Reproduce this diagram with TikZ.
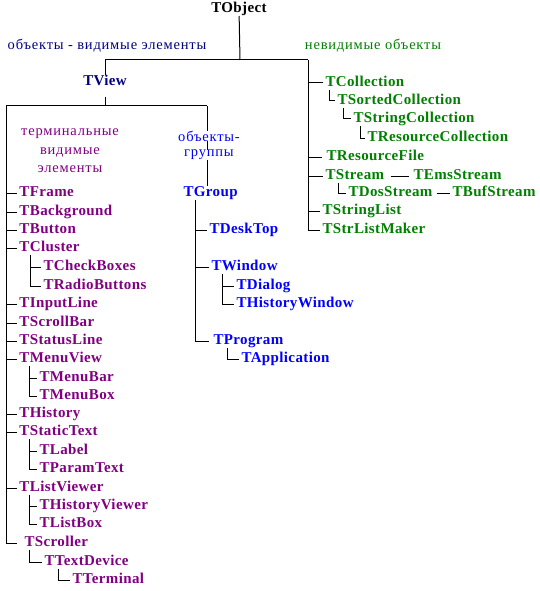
\documentclass[tikz,border=0pt]{standalone}
\usepackage{fontspec}
\setmainfont{Liberation Serif}
\newfontfamily\clsfont[LetterSpace=2.5]{Liberation Serif}
\newfontfamily\notefont[LetterSpace=5.5]{Liberation Serif}
\definecolor{termcol}{HTML}{800080}
\definecolor{grpcol}{HTML}{0000FF}
\definecolor{invcol}{HTML}{008000}
\definecolor{viewcol}{HTML}{000080}
\tikzset{
  cls/.style={anchor=west,inner xsep=2pt,inner ysep=0pt,text height=10pt,text depth=3pt,
    font=\clsfont\fontsize{15}{18}\selectfont\bfseries},
  term/.style={cls,text=termcol},
  grp/.style={cls,text=grpcol},
  inv/.style={cls,text=invcol},
  note/.style={align=center,inner sep=1pt,font=\notefont\fontsize{14.5}{18.5}\selectfont}
}
\begin{document}
\begin{tikzpicture}[x=1pt,y=-1pt,line width=1pt]
        \useasboundingbox (0,0) rectangle (540,591);
        % root and first level
        \node [cls,anchor=center] (tobject) at (239,9) {TObject};
        \node [cls,anchor=center,text=viewcol] (tview) at (105,82) {TView};
        \coordinate (topbus) at (240,60);
        \coordinate (rbus) at (308,60);
        \coordinate (lbus) at (6,106);
        \coordinate (mbus) at (207,106);
        \node [note,text=viewcol] (lvisible) at (107,46) {объекты - видимые элементы};
        \node [note,text=invcol] (linvisible) at (373,46) {невидимые объекты};
        \node [note,text=termcol] (lterminal) at (70,151) {терминальные\\видимые\\элементы};
        \draw (tobject) -- (topbus);
        \draw (tview.north |- topbus) -- (rbus);
        \draw (tview.north |- topbus) -- (tview.north);
        \draw ([yshift=-8pt]tview.south) -- (tview.south |- lbus);
        \draw (lbus) -- (mbus);
        % terminal views
        \node [term] (tframe) at (17,193) {TFrame};
        \node [term] (tbackground) at (17,212) {TBackground};
        \node [term] (tbutton) at (17,230) {TButton};
        \node [term] (tcluster) at (17,248) {TCluster};
        \node [term] (tcheckboxes) at (41,267) {TCheckBoxes};
        \node [term] (tradiobuttons) at (41,286) {TRadioButtons};
        \node [term] (tinputline) at (17,304) {TInputLine};
        \node [term] (tscrollbar) at (17,323) {TScrollBar};
        \node [term] (tstatusline) at (17,341) {TStatusLine};
        \node [term] (tmenuview) at (17,359) {TMenuView};
        \node [term] (tmenubar) at (37,378) {TMenuBar};
        \node [term] (tmenubox) at (37,396) {TMenuBox};
        \node [term] (thistory) at (17,414) {THistory};
        \node [term] (tstatictext) at (17,432) {TStaticText};
        \node [term] (tlabel) at (37,451) {TLabel};
        \node [term] (tparamtext) at (37,469) {TParamText};
        \node [term] (tlistviewer) at (17,488) {TListViewer};
        \node [term] (thistoryviewer) at (37,506) {THistoryViewer};
        \node [term] (tlistbox) at (37,524) {TListBox};
        \node [term] (tscroller) at (22,543) {TScroller};
        \node [term] (ttextdevice) at (42,562) {TTextDevice};
        \node [term] (tterminal) at (70,580) {TTerminal};
        \draw (lbus) |- ([xshift=-5pt]tscroller.west);
        \draw (lbus |- tframe.west) -- (tframe.west);
        \draw (lbus |- tbackground.west) -- (tbackground.west);
        \draw (lbus |- tbutton.west) -- (tbutton.west);
        \draw (lbus |- tcluster.west) -- (tcluster.west);
        \draw (lbus |- tinputline.west) -- (tinputline.west);
        \draw (lbus |- tscrollbar.west) -- (tscrollbar.west);
        \draw (lbus |- tstatusline.west) -- (tstatusline.west);
        \draw (lbus |- tmenuview.west) -- (tmenuview.west);
        \draw (lbus |- thistory.west) -- (thistory.west);
        \draw (lbus |- tstatictext.west) -- (tstatictext.west);
        \draw (lbus |- tlistviewer.west) -- (tlistviewer.west);
        \draw ([xshift=13pt]tcluster.south west) |- (tradiobuttons.west);
        \draw ([xshift=13pt]tcluster.south west |- tcheckboxes.west) -- (tcheckboxes.west);
        \draw ([xshift=12pt]tmenuview.south west) |- (tmenubox.west);
        \draw ([xshift=12pt]tmenuview.south west |- tmenubar.west) -- (tmenubar.west);
        \draw ([xshift=12pt]tstatictext.south west) |- (tparamtext.west);
        \draw ([xshift=12pt]tstatictext.south west |- tlabel.west) -- (tlabel.west);
        \draw ([xshift=12pt]tlistviewer.south west) |- (tlistbox.west);
        \draw ([xshift=12pt]tlistviewer.south west |- thistoryviewer.west) -- (thistoryviewer.west);
        \draw ([xshift=7pt]tscroller.south west) |- (ttextdevice.west);
        \draw ([xshift=16pt]ttextdevice.south west) |- (tterminal.west);
        % groups
        \node [grp] (tgroup) at (181,193) {TGroup};
        \draw (mbus) -- (mbus |- tgroup.north);
        \node [note,text=grpcol,fill=white,inner sep=0pt] (lgroups) at (209,136) {объекты-};
        \node [note,text=grpcol,fill=white,inner sep=0pt] (lgroups2) at (209,155) {группы};
        \node [grp] (tdesktop) at (207,230) {TDeskTop};
        \node [grp] (twindow) at (209,267) {TWindow};
        \node [grp] (tdialog) at (234,286) {TDialog};
        \node [grp] (thistorywindow) at (234,304) {THistoryWindow};
        \node [grp] (tprogram) at (211,341) {TProgram};
        \node [grp] (tapplication) at (239,359) {TApplication};
        \draw ([xshift=14pt]tgroup.south west) |- ([xshift=-2pt]tprogram.west);
        \draw ([xshift=14pt]tgroup.south west |- tdesktop.west) -- (tdesktop.west);
        \draw ([xshift=14pt]tgroup.south west |- twindow.west) -- (twindow.west);
        \draw ([xshift=13pt]twindow.south west) |- (thistorywindow.west);
        \draw ([xshift=13pt]twindow.south west |- tdialog.west) -- (tdialog.west);
        \draw ([xshift=16pt]tprogram.south west) |- (tapplication.west);
        % invisible objects
        \node [inv] (tcollection) at (323,83) {TCollection};
        \node [inv] (tsortedcollection) at (335,101) {TSortedCollection};
        \node [inv] (tstringcollection) at (351,119) {TStringCollection};
        \node [inv] (tresourcecollection) at (365,138) {TResourceCollection};
        \node [inv] (tresourcefile) at (324,157) {TResourceFile};
        \node [inv] (tstream) at (323,176) {TStream};
        \node [inv] (temsstream) at (411,176) {TEmsStream};
        \node [inv] (tdosstream) at (346,193) {TDosStream};
        \node [inv] (tbufstream) at (450,193) {TBufStream};
        \node [inv] (tstringlist) at (320,211) {TStringList};
        \node [inv] (tstrlistmaker) at (320,230) {TStrListMaker};
        \draw (rbus) |- (tstrlistmaker.west);
        \draw (rbus |- tcollection.west) -- (tcollection.west);
        \draw (rbus |- tresourcefile.west) -- ([xshift=-2pt]tresourcefile.west);
        \draw (rbus |- tstream.west) -- (tstream.west);
        \draw (rbus |- tstringlist.west) -- (tstringlist.west);
        \draw ([xshift=6pt]tcollection.south west) |- (tsortedcollection.west);
        \draw ([xshift=8pt]tsortedcollection.south west) |- (tstringcollection.west);
        \draw ([xshift=9pt]tstringcollection.south west) |- (tresourcecollection.west);
        \draw ([xshift=15pt]tstream.south west) |- (tdosstream.west);
        \draw ([xshift=4pt]tstream.east) -- ([xshift=-2pt]temsstream.west);
        \draw ([xshift=2pt]tdosstream.east) -- (tbufstream.west);
\end{tikzpicture}
\end{document}
